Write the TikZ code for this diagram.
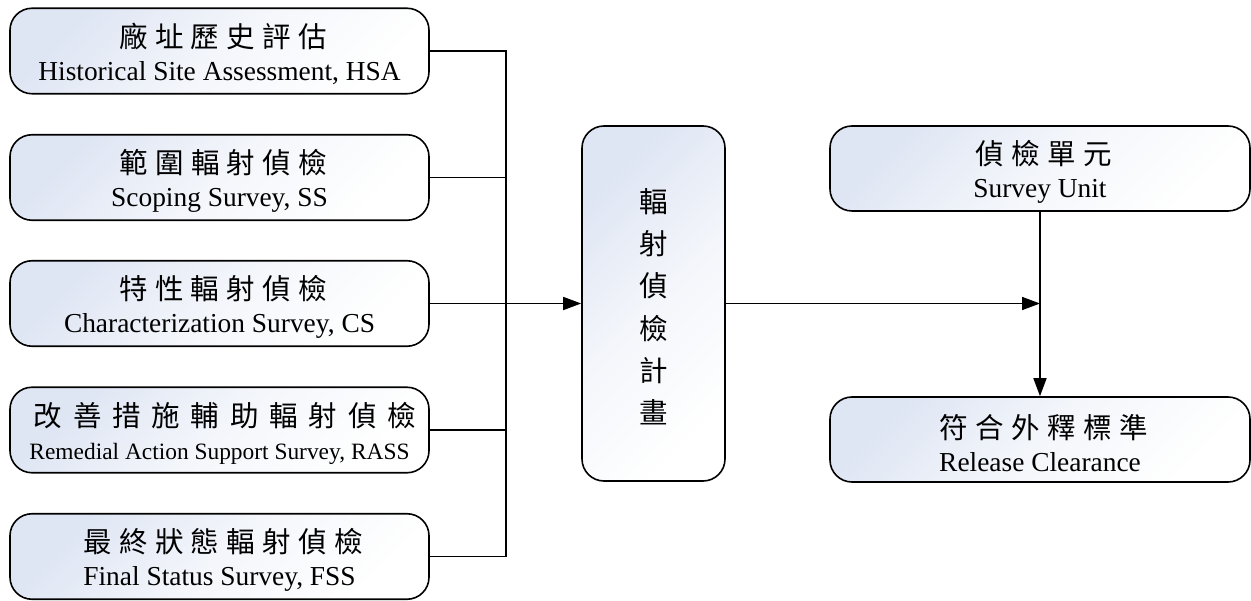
\documentclass[tikz,border=0pt]{standalone}
\usepackage{fontspec}
\setmainfont{Liberation Serif}
\newfontfamily\cjk[LetterSpace=26]{Noto Sans CJK TC}
\newfontfamily\cjkwide[LetterSpace=38]{Noto Sans CJK TC}
\newfontfamily\cjkplain{Noto Sans CJK TC}
\usetikzlibrary{arrows.meta}
\definecolor{gradblue}{RGB}{222,229,243}
\newcommand{\firstln}{\rule{0pt}{30.5pt}}
\tikzset{
  boxstyle/.style={draw, line width=1.6pt, rounded corners=22pt, inner sep=0pt,
    top color=gradblue, bottom color=white, middle color=gradblue!35!white, shading angle=45,
    align=center, font=\fontsize{27.4}{33}\selectfont},
  leftbox/.style={boxstyle, minimum width=419pt, minimum height=85.5pt},
  rightbox/.style={boxstyle, minimum width=420pt, minimum height=85pt},
  conn/.style={line width=1.6pt},
  arr/.style={conn, -{Triangle[length=18pt,width=13pt]}},
}
\begin{document}
\begin{tikzpicture}[x=1pt,y=-1pt]
\useasboundingbox (0,0) rectangle (1251,601);
\node[leftbox] (b1) at (219.5,51) {\firstln{\fontsize{28.5}{28.5}\cjk 廠址歷史評估\kern-0.26em}\\Historical Site Assessment, HSA};
\node[leftbox] (b2) at (219.5,177.5) {\firstln{\fontsize{28.5}{28.5}\cjk 範圍輻射偵檢\kern-0.26em}\\Scoping Survey, SS};
\node[leftbox] (b3) at (219.5,303.5) {\firstln{\fontsize{28.5}{28.5}\cjk 特性輻射偵檢\kern-0.26em}\\Characterization Survey, CS};
\node[leftbox] (b4) at (219.5,430) {\firstln{\fontsize{28.5}{28.5}\cjkwide 改善措施輔助輻射偵檢\kern-0.38em}\\{\fontsize{23.4}{23.4}\selectfont Remedial Action Support Survey, RASS}};
\node[leftbox] (b5) at (219.5,556.5) {\firstln{\fontsize{28.5}{28.5}\cjk 最終狀態輻射偵檢\kern-0.26em}\\Final Status Survey, FSS};
\node[boxstyle, minimum width=143pt, minimum height=355pt, font=\fontsize{28.5}{42.2}\selectfont\cjkplain] (plan) at (653.5,303.5) {\firstln 輻\\射\\偵\\檢\\計\\畫};
\node[rightbox] (su) at (1040,168.5) {\firstln{\fontsize{28.5}{28.5}\cjk 偵檢單元\kern-0.26em}\\Survey Unit};
\node[rightbox] (rc) at (1040,439.5) {\firstln{\fontsize{28.5}{28.5}\cjk 符合外釋標準\kern-0.26em}\\Release Clearance};
\coordinate (jt) at (506,51);
\coordinate (jb) at (506,556.5);
\coordinate (jr) at (su.south |- plan.east);
\draw[conn] (b1.east) -- (jt) -- (jb) -- (b5.east);
\draw[conn] (b2.east) -- (b2.east -| jt);
\draw[conn] (b4.east) -- (b4.east -| jt);
\draw[arr] (b3.east) -- (plan.west);
\draw[arr] (plan.east) -- (jr);
\draw[arr] (su.south) -- (rc.north);
\end{tikzpicture}
\end{document}
